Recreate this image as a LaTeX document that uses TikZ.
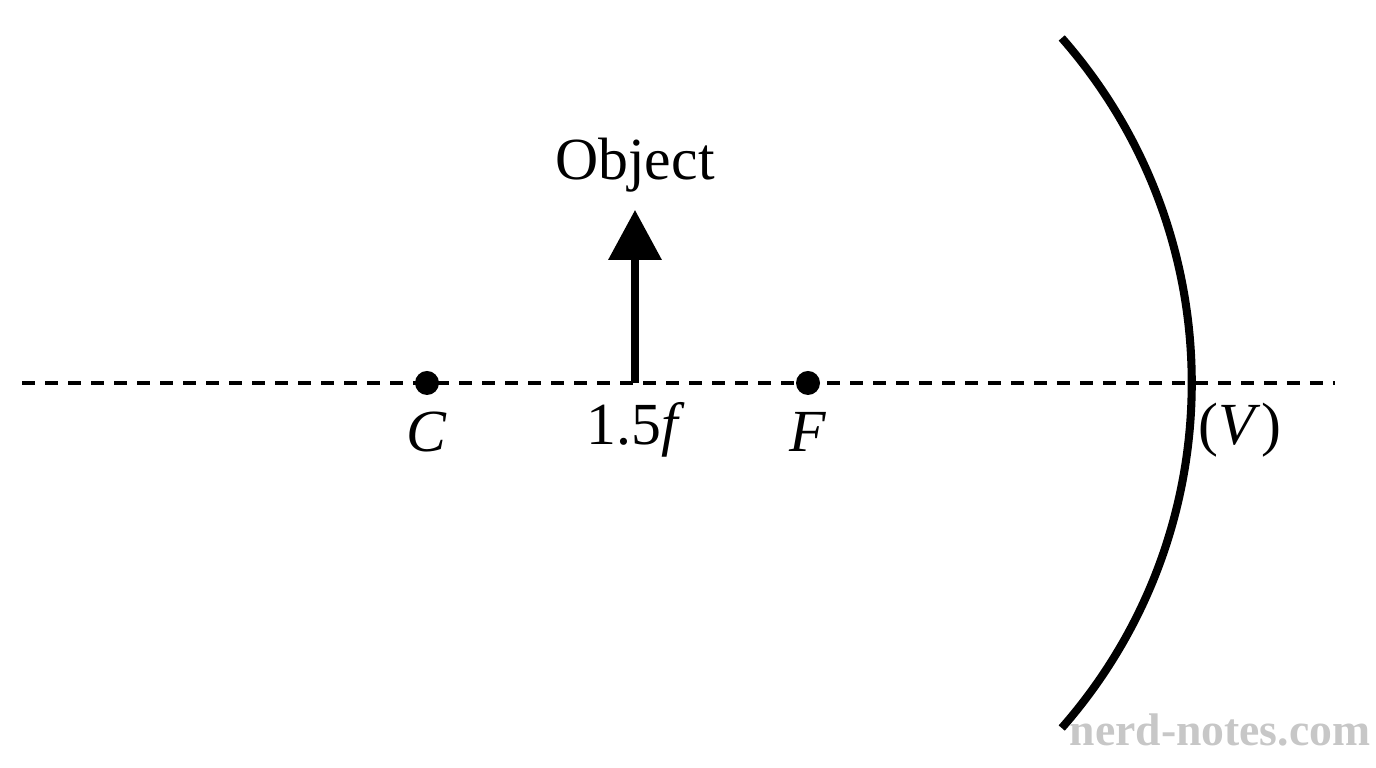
\documentclass[tikz,border=0pt]{standalone}
\usepackage{fontspec}
\setmainfont{Liberation Serif}
\usetikzlibrary{positioning, arrows.meta}

\begin{document}
\begin{tikzpicture}[
    dot/.style={circle, fill=black, inner sep=0pt, minimum size=0.24cm},
    label/.style={font=\fontsize{17}{19}\selectfont},
    arrow/.style={-{Triangle[length=5mm, width=5.2mm]}, line width=2pt},
    mirror/.style={line width=2.3pt}
]
    \useasboundingbox (0, 0) rectangle (13.76, 7.68);

    % === Principal axis ===
    \coordinate (axisL) at (0.22, 3.85);
    \coordinate (axisR) at (13.35, 3.85);
    \draw[line width=1pt, dash pattern=on 1.3mm off 1.0mm] (axisL) -- (axisR);

    % === Points ===
    \node[dot] (C) at (4.27, 3.85) {};
    \node[dot] (F) at (8.08, 3.85) {};
    \coordinate (base) at (6.35, 3.85);
    \coordinate (tip) at (6.35, 5.58);

    \node[label] (Clab) at (4.27, 3.36) {\textit{C}};
    \node[label] (flab) at (6.36, 3.38) {1.5\textit{f}};
    \node[label] (Flab) at (8.08, 3.36) {\textit{F}};
    \node[label] (Vlab) at (12.40, 3.38) {(\textit{V})};

    % === Object ===
    \draw[arrow] (base) -- (tip);
    \node[label, above=0.05cm of tip] (obj) {Object};

    % === Mirror ===
    \draw[mirror] (6.69, 3.85) ++(-41.3:5.228) arc (-41.3:41.3:5.228);

    \node[font=\fontsize{13}{15}\selectfont\bfseries, text=black!22] (wm) at (12.20, 0.38) {nerd-notes.com};
\end{tikzpicture}
\end{document}
